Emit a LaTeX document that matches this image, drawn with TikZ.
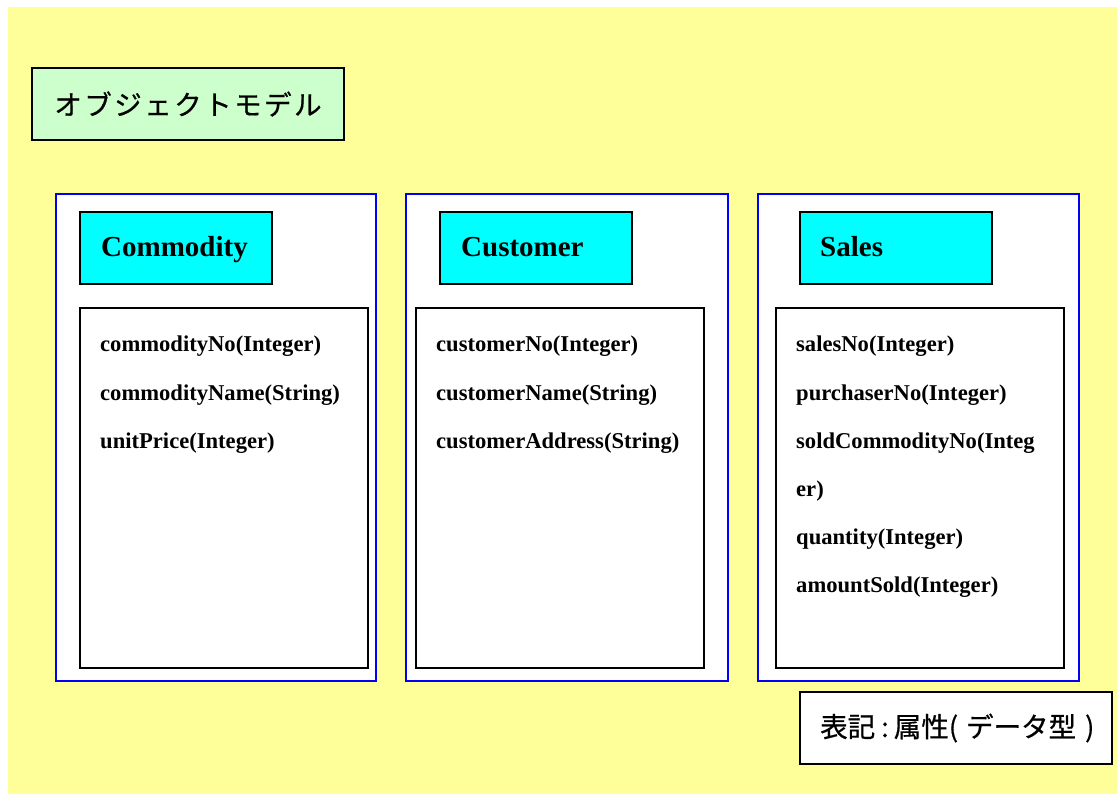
\documentclass[tikz,border=0pt]{standalone}
\usepackage{fontspec}
\newfontfamily\attrfont{Liberation Serif}
\newfontfamily\jpfont{Noto Sans CJK JP}[FakeBold=0.6]
\definecolor{bgyellow}{HTML}{FFFF99}
\definecolor{titlegreen}{HTML}{CCFFCC}
\definecolor{headcyan}{HTML}{00FFFF}
\definecolor{frameblue}{HTML}{0000FF}
\tikzset{
  box/.style={anchor=north west, inner sep=0pt, outer sep=0pt},
  titlebox/.style={box, draw=black, line width=1.6pt, fill=titlegreen},
  classframe/.style={box, draw=frameblue, line width=1.4pt, fill=white,
    minimum width=320pt, minimum height=487pt},
  classhead/.style={box, draw=black, line width=1.6pt, fill=headcyan,
    minimum width=192pt, minimum height=72pt},
  attrbox/.style={box, draw=black, line width=1.6pt, fill=white,
    minimum width=288pt, minimum height=360pt},
  headtext/.style={anchor=base west, inner sep=0pt,
    font=\attrfont\bfseries\fontsize{29}{34}\selectfont},
  attrtext/.style={anchor=base west, inner sep=0pt,
    font=\attrfont\bfseries\fontsize{22.6}{26}\selectfont},
  jptext/.style={inner sep=0pt, font=\jpfont\fontsize{27.5}{32}\selectfont}
}
\begin{document}
\begin{tikzpicture}[x=1pt,y=-1pt]
\useasboundingbox (0,0) rectangle (1117,794);
\fill[bgyellow] (8,7) rectangle (1117,794);

% title
\node[titlebox, minimum width=312pt, minimum height=72pt] (title) at (32,68) {};
\node[jptext, font=\jpfont\addfontfeature{LetterSpace=9}\fontsize{27.5}{32}\selectfont] (titletext) at ([xshift=0pt]title.center) {オブジェクトモデル};

% class frames
\node[classframe] (fcom) at (56,194) {};
\node[classframe, minimum width=322pt] (fcus) at (406,194) {};
\node[classframe, minimum width=321pt] (fsal) at (758,194) {};

% class name boxes
\node[classhead] (hcom) at (80,212) {};
\node[classhead] (hcus) at (440,212) {};
\node[classhead] (hsal) at (800,212) {};
\node[headtext] (tcom) at (101,257) {Commodity};
\node[headtext] (tcus) at (461,257) {Customer};
\node[headtext] (tsal) at (820,257) {Sales};

% attribute boxes
\node[attrbox] (acom) at (80,308) {};
\node[attrbox] (acus) at (416,308) {};
\node[attrbox] (asal) at (776,308) {};

% Commodity attributes
\node[attrtext] (c1) at (100,352) {commodityNo(Integer)};
\node[attrtext] (c2) at (100,400) {commodityName(String)};
\node[attrtext] (c3) at (100,448) {unitPrice(Integer)};

% Customer attributes
\node[attrtext] (u1) at (436,352) {customerNo(Integer)};
\node[attrtext] (u2) at (436,400) {customerName(String)};
\node[attrtext] (u3) at (436,448) {customerAddress(String)};

% Sales attributes
\node[attrtext] (s1) at (796,352) {salesNo(Integer)};
\node[attrtext] (s2) at (796,400) {purchaserNo(Integer)};
\node[attrtext] (s3) at (796,448) {soldCommodityNo(Integ};
\node[attrtext] (s4) at (796,496) {er)};
\node[attrtext] (s5) at (796,544) {quantity(Integer)};
\node[attrtext] (s6) at (796,592) {amountSold(Integer)};

% notation legend
\node[box, draw=black, line width=1.6pt, fill=white, minimum width=312pt, minimum height=72pt] (legend) at (800,692) {};
\node[jptext, anchor=west] (legendtext) at ([xshift=20pt]legend.west)
  {表記\hspace{6pt}:\hspace{5pt}属性(\hspace{8pt}データ型\hspace{9pt})};
\end{tikzpicture}
\end{document}
